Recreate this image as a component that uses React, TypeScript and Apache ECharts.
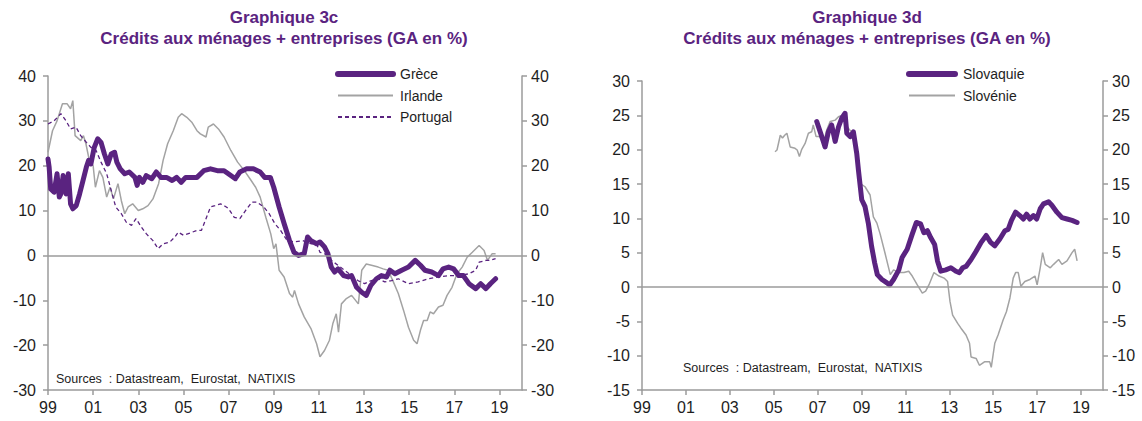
import React, { useEffect, useRef } from "react";
import * as echarts from "echarts";

const PURPLE = "#5A2380";
const GRAY = "#A3A3A3";
const AXIS = "#9B9B9B";
const FONT = "'Liberation Sans', Arial, sans-serif";

const titleLine1Left = "Graphique 3c";
const titleLine1Right = "Graphique 3d";
const titleLine2 = "Crédits aux ménages + entreprises (GA en %)";
const sourcesText = "Sources  : Datastream,  Eurostat,  NATIXIS";

const leftNames = ["Grèce", "Irlande", "Portugal"];
const rightNames = ["Slovaquie", "Slovénie"];

// year (decimal), annual growth %
const grece: [number, number][] = [
  [1999.0, 21.5], [1999.05, 19.7], [1999.12, 14.8], [1999.27, 14.1], [1999.4, 18.2], [1999.5, 13], [1999.57, 13.7],
  [1999.67, 17.8], [1999.8, 13.7], [1999.9, 18.2], [2000.0, 11.5], [2000.1, 10.4], [2000.25, 11.1], [2000.4, 13.7],
  [2000.55, 16.7], [2000.7, 19.7], [2000.8, 21.2], [2000.9, 20.4], [2001.05, 24.1], [2001.2, 26], [2001.35, 25.2],
  [2001.5, 22.6], [2001.65, 20.4], [2001.8, 22.6], [2001.95, 23], [2002.05, 20.8], [2002.2, 19.3], [2002.4, 18.2],
  [2002.6, 18.6], [2002.85, 17.4], [2002.95, 15.6], [2003.05, 17.4], [2003.2, 16.3], [2003.35, 17.8], [2003.6, 17.1],
  [2003.8, 18.6], [2004.0, 17.4], [2004.25, 17.4], [2004.5, 16.7], [2004.7, 17.4], [2004.9, 16.3], [2005.1, 17.4],
  [2005.45, 17.4], [2005.6, 17.4], [2005.9, 18.9], [2006.2, 19.3], [2006.5, 18.9], [2006.8, 18.9], [2007.1, 17.8],
  [2007.3, 17.1], [2007.5, 18.6], [2007.8, 19.3], [2008.1, 19.3], [2008.4, 18.6], [2008.6, 17.4], [2008.85, 17.4],
  [2009.0, 15.2], [2009.24, 10.8], [2009.46, 7.1], [2009.7, 3.3], [2009.9, 0.7], [2010.1, 0], [2010.35, 0.4],
  [2010.5, 4.1], [2010.65, 3.3], [2010.9, 2.6], [2011.05, 3.0], [2011.25, 1.9], [2011.4, 0.4], [2011.55, -2.6],
  [2011.7, -3.7], [2011.85, -3.0], [2012.1, -4.5], [2012.3, -4.8], [2012.45, -4.5], [2012.67, -7.1], [2012.9, -8.2],
  [2013.1, -8.9], [2013.3, -6.7], [2013.55, -5.2], [2013.77, -4.5], [2014.0, -4.8], [2014.15, -3.3], [2014.37, -4.1],
  [2014.67, -3.3], [2014.97, -2.6], [2015.27, -1.1], [2015.5, -2.2], [2015.7, -3.3], [2016.0, -3.7], [2016.3, -4.5],
  [2016.5, -3.0], [2016.75, -2.6], [2016.97, -3.0], [2017.2, -4.5], [2017.4, -4.5], [2017.65, -6.3], [2017.95, -7.4],
  [2018.17, -6.3], [2018.4, -7.4], [2018.6, -6.3], [2018.83, -5.2],
];

const irlande: [number, number][] = [
  [1999.0, 23], [1999.2, 27.8], [1999.4, 30], [1999.64, 33.8], [1999.85, 33.8], [2000.0, 32.7], [2000.1, 34.5],
  [2000.2, 26.7], [2000.45, 25.6], [2000.57, 26.7], [2000.68, 24.9], [2000.83, 21.2], [2001.0, 20], [2001.1, 15.2],
  [2001.28, 18.9], [2001.43, 17.4], [2001.6, 13], [2001.75, 15.2], [2001.9, 12.6], [2002.1, 16], [2002.25, 12.2],
  [2002.4, 9.3], [2002.55, 10.8], [2002.75, 11.5], [2003.0, 10], [2003.2, 10.4], [2003.43, 11.1], [2003.65, 12.6],
  [2003.9, 16], [2004.1, 21.2], [2004.3, 24.9], [2004.55, 27.8], [2004.77, 30.8], [2004.92, 31.6], [2005.15, 30.8],
  [2005.37, 29.7], [2005.6, 27.8], [2005.75, 27.1], [2006.0, 26.4], [2006.1, 28.6], [2006.33, 29.3], [2006.55, 28.2],
  [2006.8, 26.4], [2007.1, 23.4], [2007.4, 20.8], [2007.7, 18.9], [2008.0, 16.7], [2008.2, 15.2], [2008.4, 13],
  [2008.65, 8.5], [2008.87, 4.8], [2009.0, 1.5], [2009.1, 2.6], [2009.24, -3.3], [2009.46, -4.8], [2009.7, -8.5],
  [2009.84, -9.3], [2009.92, -7.8], [2010.1, -10.8], [2010.35, -13.7], [2010.65, -16.3], [2010.9, -19.7],
  [2011.05, -22.6], [2011.25, -21.2], [2011.47, -18.9], [2011.62, -15.2], [2011.77, -13], [2011.87, -17.1],
  [2012.0, -10.8], [2012.2, -9.7], [2012.45, -8.9], [2012.75, -10.8], [2012.9, -3.3], [2013.1, -1.9], [2013.33, -2.2],
  [2013.63, -2.6], [2013.85, -3.0], [2014.07, -3.3], [2014.3, -5.9], [2014.52, -8.5], [2014.75, -12.2], [2014.97, -16],
  [2015.2, -18.9], [2015.35, -19.7], [2015.5, -16.7], [2015.64, -14.5], [2015.8, -14.5], [2015.93, -12.6],
  [2016.08, -13], [2016.3, -11.5], [2016.5, -11.1], [2016.68, -8.9], [2016.9, -7.1], [2017.12, -4.1], [2017.35, -2.6],
  [2017.57, -0.4], [2017.8, 0.7], [2018.1, 2.2], [2018.32, 1.1], [2018.47, -1.1], [2018.68, 0.4], [2018.83, 0.4],
];

const portugal: [number, number][] = [
  [1999.0, 29.3], [1999.27, 30], [1999.57, 31.6], [1999.8, 30], [2000.0, 28.2], [2000.24, 28.6], [2000.45, 26.7],
  [2000.7, 25.2], [2000.9, 24.1], [2001.13, 23.4], [2001.35, 20.8], [2001.6, 18.2], [2001.8, 14.5], [2002.0, 10.8],
  [2002.25, 9.3], [2002.47, 7.4], [2002.7, 6.7], [2002.9, 8.2], [2003.14, 6.3], [2003.36, 4.8], [2003.65, 3.3],
  [2003.88, 1.5], [2004.1, 2.6], [2004.4, 3.0], [2004.62, 4.1], [2004.77, 5.2], [2005.0, 4.5], [2005.3, 5.0],
  [2005.6, 5.6], [2005.8, 5.6], [2006.0, 8.2], [2006.2, 10.8], [2006.4, 11.1], [2006.65, 11.5], [2006.9, 10.8],
  [2007.0, 10.4], [2007.25, 8.5], [2007.5, 8.2], [2007.75, 10], [2008.04, 11.9], [2008.26, 11.9], [2008.56, 10.8],
  [2008.8, 9.3], [2009.05, 7.1], [2009.3, 5.6], [2009.6, 3.3], [2009.9, 3.0], [2010.28, 3.3], [2010.65, 2.6],
  [2010.9, 2.6], [2011.05, 0.7], [2011.25, 0.4], [2011.55, -1.1], [2011.85, -2.2], [2012.14, -3.3], [2012.45, -4.5],
  [2012.73, -5.6], [2013.03, -6.3], [2013.33, -5.6], [2013.63, -5.2], [2013.92, -5.9], [2014.22, -5.6],
  [2014.52, -5.2], [2014.97, -6.3], [2015.4, -5.9], [2015.86, -5.2], [2016.3, -4.8], [2016.75, -4.5], [2017.2, -4.5],
  [2017.65, -4.1], [2017.95, -3.3], [2018.1, -1.5], [2018.4, -1.1], [2018.6, -1.1], [2018.83, -0.7],
];

const slovaquie: [number, number][] = [
  [2006.96, 24.1], [2007.19, 21.9], [2007.34, 20.4], [2007.49, 22.6], [2007.64, 23.6], [2007.8, 21.2],
  [2007.95, 23.3], [2008.1, 24.6], [2008.25, 25.3], [2008.33, 22.4], [2008.48, 21.9], [2008.63, 22.6],
  [2008.78, 19.5], [2008.86, 17], [2009.01, 12.7], [2009.16, 11.7], [2009.31, 9.3], [2009.46, 5.9], [2009.6, 3.5],
  [2009.72, 1.8], [2009.93, 1.1], [2010.16, 0.6], [2010.28, 0.3], [2010.46, 1.1], [2010.7, 2.5], [2010.85, 4.3],
  [2011.08, 5.5], [2011.31, 7.7], [2011.5, 9.4], [2011.69, 9.2], [2011.84, 7.9], [2012.0, 8.2], [2012.15, 7.2],
  [2012.33, 6.2], [2012.46, 3.8], [2012.61, 2.3], [2012.84, 2.5], [2013.07, 2.8], [2013.3, 2.3], [2013.46, 2.1],
  [2013.61, 2.8], [2013.76, 3.0], [2013.99, 4.0], [2014.22, 5.2], [2014.45, 6.5], [2014.68, 7.5], [2014.88, 6.5],
  [2015.07, 6.0], [2015.3, 7.0], [2015.53, 8.2], [2015.68, 8.4], [2015.83, 9.7], [2016.02, 10.9], [2016.21, 10.4],
  [2016.37, 9.9], [2016.52, 10.6], [2016.67, 9.9], [2016.83, 10.4], [2016.98, 9.9], [2017.14, 11.4],
  [2017.29, 12.1], [2017.52, 12.4], [2017.67, 11.9], [2017.9, 10.9], [2018.13, 10.1], [2018.36, 9.9],
  [2018.59, 9.7], [2018.82, 9.4],
];

const slovenie: [number, number][] = [
  [2005.06, 19.7], [2005.15, 19.95], [2005.3, 22.1], [2005.4, 21.7], [2005.5, 22.1], [2005.6, 22.4],
  [2005.75, 20.4], [2005.97, 20.2], [2006.07, 19.95], [2006.17, 19], [2006.27, 20], [2006.43, 20.9],
  [2006.58, 22.4], [2006.73, 22.6], [2006.8, 23.6], [2006.93, 21.9], [2007.1, 21.9], [2007.26, 20.9],
  [2007.42, 22.9], [2007.57, 24.1], [2007.8, 24.3], [2007.95, 24.8], [2008.1, 25], [2008.25, 23.8],
  [2008.45, 22.9], [2008.63, 22.4], [2008.78, 18.5], [2008.93, 15.1], [2009.16, 14.6], [2009.39, 13.4],
  [2009.54, 10.2], [2009.7, 9.3], [2009.85, 7.7], [2010.08, 4.8], [2010.31, 1.8], [2010.46, 2.5], [2010.7, 2.1],
  [2010.93, 2.1], [2011.15, 2.3], [2011.31, 1.6], [2011.54, 0.3], [2011.77, -0.9], [2011.92, -0.6], [2012.07, 0.3],
  [2012.3, 2.1], [2012.53, 1.6], [2012.76, 1.3], [2012.92, 0.8], [2013.03, -2.1], [2013.15, -4.1], [2013.38, -5.3],
  [2013.53, -6.0], [2013.76, -7.0], [2013.92, -8.2], [2013.99, -10.2], [2014.22, -10.4], [2014.37, -11.4],
  [2014.6, -10.9], [2014.84, -10.9], [2014.91, -11.7], [2015.07, -8.2], [2015.22, -7.0], [2015.45, -4.8],
  [2015.6, -3.6], [2015.76, -1.6], [2015.91, 1.3], [2016.02, 2.1], [2016.14, 2.1], [2016.26, 0.1], [2016.44, 0.8],
  [2016.67, 1.1], [2016.9, 1.6], [2017.0, 0.3], [2017.14, 2.8], [2017.25, 5.0], [2017.37, 3.3], [2017.6, 2.8],
  [2017.75, 3.3], [2017.98, 4.0], [2018.13, 3.3], [2018.36, 3.8], [2018.59, 5.0], [2018.71, 5.5], [2018.82, 3.8],
];

const xMin = 1999;
const xMax = 2020;
const xInterval = 2;
const leftY = { min: -30, max: 40, interval: 10 };
const rightY = { min: -15, max: 30, interval: 5 };

const yearLabel = (v: number) => {
  const r = Math.round(v);
  if (Math.abs(v - r) > 1e-6 || r % 2 === 0 || r > 2019) return "";
  return String(r % 100).padStart(2, "0");
};

const labelStyle = { fontSize: 16, color: "#1E1E1E", fontFamily: FONT };

function xAxisFor(gridIndex: number) {
  return {
    type: "value",
    gridIndex,
    min: xMin,
    max: xMax,
    interval: xInterval,
    axisLine: { onZero: false, lineStyle: { color: AXIS, width: 1.5 } },
    axisTick: { show: true, length: 5, lineStyle: { color: AXIS, width: 1.5 } },
    axisLabel: { ...labelStyle, margin: 9, formatter: yearLabel, showMaxLabel: false },
    splitLine: { show: false },
  };
}

function yAxisFor(gridIndex: number, cfg: { min: number; max: number; interval: number }, position: string) {
  return {
    type: "value",
    gridIndex,
    position,
    min: cfg.min,
    max: cfg.max,
    interval: cfg.interval,
    axisLine: { show: true, onZero: false, lineStyle: { color: AXIS, width: 1.5 } },
    axisTick: { show: true, length: 5, lineStyle: { color: AXIS, width: 1.5 } },
    axisLabel: { ...labelStyle, margin: position === "left" ? 12 : 9 },
    splitLine: { show: false },
  };
}

const zeroLine = {
  silent: true,
  symbol: "none",
  label: { show: false },
  lineStyle: { color: AXIS, width: 1.5, type: "solid" },
  data: [{ yAxis: 0 }],
};

const TITLE_FONT = "'Liberation Sans Narrow', 'Liberation Sans', Arial, sans-serif";

export default function App() {
  const ref = useRef<HTMLDivElement>(null);

  useEffect(() => {
    if (!ref.current) return;
    const chart = echarts.init(ref.current, undefined, { renderer: "svg" });
    const thick = { color: PURPLE, width: 5, cap: "round", join: "round" };
    const legendText = { fontSize: 14, color: "#1E1E1E", fontFamily: FONT };
    const thickNames = ["Grèce", "Slovaquie"];
    const legendData = (names: string[]) =>
      names.map((n) =>
        thickNames.includes(n) ? { name: n, lineStyle: { width: 6, cap: "round" } } : { name: n }
      );
    const option: any = {
      animation: false,
      backgroundColor: "#ffffff",
      textStyle: { fontFamily: FONT },
      grid: [
        { left: 48, width: 474, top: 76, height: 314 },
        { left: 642, width: 461, top: 81, height: 309 },
      ],
      xAxis: [xAxisFor(0), xAxisFor(1)],
      yAxis: [
        yAxisFor(0, leftY, "left"),
        yAxisFor(0, leftY, "right"),
        yAxisFor(1, rightY, "left"),
        yAxisFor(1, rightY, "right"),
      ],
      legend: [
        {
          data: legendData(leftNames),
          orient: "vertical",
          left: 330,
          top: 62,
          itemWidth: 55,
          itemHeight: 14,
          itemGap: 7.5,
          itemStyle: { opacity: 0 },
          textStyle: { ...legendText, padding: [0, 0, 0, 2] },
          selectedMode: false,
        },
        {
          data: legendData(rightNames),
          orient: "vertical",
          left: 901,
          top: 62,
          itemWidth: 46,
          itemHeight: 14,
          itemGap: 7.5,
          itemStyle: { opacity: 0 },
          textStyle: { ...legendText, padding: [0, 0, 0, 3] },
          selectedMode: false,
        },
      ],
      graphic: [
        {
          type: "text",
          x: 284,
          y: 7,
          style: {
            text: titleLine1Left + "\n" + titleLine2,
            textAlign: "center",
            fontSize: 17,
            fontWeight: "bold",
            fontFamily: TITLE_FONT,
            fill: PURPLE,
            lineHeight: 21,
          },
        },
        {
          type: "text",
          x: 867,
          y: 7,
          style: {
            text: titleLine1Right + "\n" + titleLine2,
            textAlign: "center",
            fontSize: 17,
            fontWeight: "bold",
            fontFamily: TITLE_FONT,
            fill: PURPLE,
            lineHeight: 21,
          },
        },
        {
          type: "text",
          x: 56,
          y: 372,
          style: { text: sourcesText, fontSize: 12.5, fill: "#1E1E1E", fontFamily: FONT },
        },
        {
          type: "text",
          x: 683,
          y: 361,
          style: { text: sourcesText, fontSize: 12.5, fill: "#1E1E1E", fontFamily: FONT },
        },
      ],
      series: [
        {
          name: "Irlande",
          type: "line",
          xAxisIndex: 0,
          yAxisIndex: 0,
          data: irlande,
          symbol: "none",
          lineStyle: { color: GRAY, width: 1.5 },
          itemStyle: { color: GRAY },
          markLine: zeroLine,
        },
        {
          name: "Portugal",
          type: "line",
          xAxisIndex: 0,
          yAxisIndex: 0,
          data: portugal,
          symbol: "none",
          lineStyle: { color: PURPLE, width: 1.3, type: [4, 3] },
          itemStyle: { color: PURPLE },
        },
        {
          name: "Grèce",
          type: "line",
          xAxisIndex: 0,
          yAxisIndex: 0,
          data: grece,
          symbol: "none",
          lineStyle: thick,
          itemStyle: { color: PURPLE },
        },
        {
          name: "Slovénie",
          type: "line",
          xAxisIndex: 1,
          yAxisIndex: 2,
          data: slovenie,
          symbol: "none",
          lineStyle: { color: GRAY, width: 1.5 },
          itemStyle: { color: GRAY },
          markLine: zeroLine,
        },
        {
          name: "Slovaquie",
          type: "line",
          xAxisIndex: 1,
          yAxisIndex: 2,
          data: slovaquie,
          symbol: "none",
          lineStyle: thick,
          itemStyle: { color: PURPLE },
        },
      ],
    };
    chart.setOption(option);
    return () => chart.dispose();
  }, []);

  return (
    <div
      ref={ref}
      style={{ position: "absolute", left: 0, top: 0, width: 1142, height: 421, background: "#fff" }}
    />
  );
}
